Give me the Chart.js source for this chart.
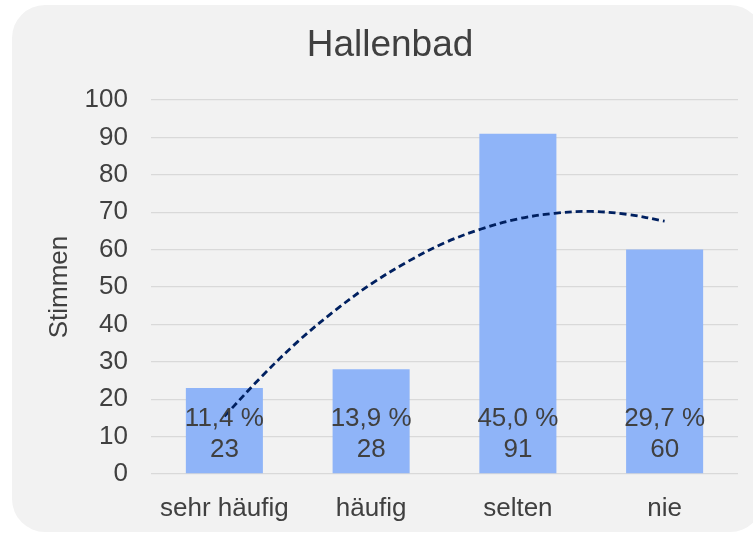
<!DOCTYPE html>
<html>
<head>
<meta charset="utf-8">
<title>Hallenbad</title>
<script src="https://cdn.jsdelivr.net/npm/chart.js@4/dist/chart.umd.min.js"></script>
<style>
  html, body { margin: 0; padding: 0; background: #ffffff; }
  #chart { display: block; }
</style>
</head>
<body>
<canvas id="chart" width="753" height="534"></canvas>
<script>
// data
var categories = ['sehr häufig', 'häufig', 'selten', 'nie'];
var votes = [23, 28, 91, 60];
// dashed trend curve, sampled at category positions (0 = first bar)
var trendX = [0, 0.25, 0.5, 0.75, 1, 1.25, 1.5, 1.75, 2, 2.25, 2.5, 2.75, 3];
var trendY = [15.4, 25.9, 35.4, 43.6, 50.8, 56.8, 61.8, 65.5, 68.2, 69.7, 70.2, 69.4, 67.6];
var yTicks = { min: 0, max: 100, step: 10 };

var FONT = "'Liberation Sans', Arial, sans-serif";
var TEXT = '#404040';

var total = votes.reduce(function (a, b) { return a + b; }, 0);
function pct(v) { return (v / total * 100).toFixed(1).replace('.', ',') + ' %'; }

// grey rounded panel behind everything
var panelPlugin = {
  id: 'panel',
  beforeDraw: function (chart) {
    var c = chart.ctx;
    c.save();
    c.fillStyle = '#ffffff';
    c.fillRect(0, 0, chart.width, chart.height);
    var x = 12, y = 5, w = 763 - 12, h = 532 - 5, r = 33;
    c.beginPath();
    c.moveTo(x + r, y);
    c.lineTo(x + w - r, y);
    c.arcTo(x + w, y, x + w, y + r, r);
    c.lineTo(x + w, y + h - r);
    c.arcTo(x + w, y + h, x + w - r, y + h, r);
    c.lineTo(x + r, y + h);
    c.arcTo(x, y + h, x, y + h - r, r);
    c.lineTo(x, y + r);
    c.arcTo(x, y, x + r, y, r);
    c.closePath();
    c.fillStyle = '#f2f2f2';
    c.fill();
    c.restore();
  }
};

// "xx,x %" + count inside the base of each bar
var barLabels = {
  id: 'barLabels',
  afterDatasetsDraw: function (chart) {
    var meta = chart.getDatasetMeta(0);
    var c = chart.ctx;
    c.save();
    c.font = '26px ' + FONT;
    c.fillStyle = TEXT;
    c.textAlign = 'center';
    c.textBaseline = 'alphabetic';
    meta.data.forEach(function (bar, i) {
      var base = bar.base;
      c.fillText(pct(votes[i]), bar.x, base - 47.5);
      c.fillText(String(votes[i]), bar.x, base - 16.5);
    });
    c.restore();
  }
};

new Chart(document.getElementById('chart'), {
  type: 'bar',
  data: {
    labels: categories,
    datasets: [
      {
        label: 'Stimmen',
        data: votes,
        xAxisID: 'x',
        backgroundColor: '#8fb4f8',
        borderWidth: 0,
        grouped: false,
        barPercentage: 0.525,
        categoryPercentage: 1.0,
        order: 1
      },
      {
        type: 'line',
        label: 'Trend',
        data: trendX.map(function (x, i) { return { x: x, y: trendY[i] }; }),
        xAxisID: 'x2',
        borderColor: '#002060',
        borderWidth: 2.8,
        borderDash: [7, 4],
        pointRadius: 0,
        tension: 0.35,
        fill: false,
        order: 0
      }
    ]
  },
  options: {
    responsive: false,
    animation: false,
    layout: { padding: { left: 42, right: 15, top: 0, bottom: 0 } },
    plugins: {
      legend: { display: false },
      tooltip: { enabled: false },
      title: {
        display: true,
        text: 'Hallenbad',
        color: TEXT,
        font: { family: FONT, size: 37, weight: 'normal' },
        padding: { top: 24, bottom: 31.6 }
      }
    },
    scales: {
      x: {
        type: 'category',
        offset: true,
        grid: { display: false, drawTicks: false },
        border: { display: false },
        ticks: {
          color: TEXT,
          font: { family: FONT, size: 26 },
          padding: 19,
          autoSkip: false,
          maxRotation: 0,
          minRotation: 0
        },
        afterFit: function (scale) { scale.height = 60; }
      },
      x2: {
        type: 'linear',
        display: false,
        offset: false,
        grid: { offset: false },
        min: -0.5,
        max: 3.5
      },
      y: {
        min: yTicks.min,
        max: yTicks.max,
        grid: { color: '#d9d9d9', lineWidth: 1.3, drawTicks: false },
        border: { display: false },
        ticks: {
          stepSize: yTicks.step,
          color: TEXT,
          font: { family: FONT, size: 26 },
          padding: 23
        },
        title: {
          display: true,
          text: 'Stimmen',
          color: TEXT,
          font: { family: FONT, size: 26 },
          padding: { top: 2.5, bottom: 0 }
        },
        afterFit: function (scale) { scale.width = 109; }
      }
    }
  },
  plugins: [panelPlugin, barLabels]
});
</script>
</body>
</html>
